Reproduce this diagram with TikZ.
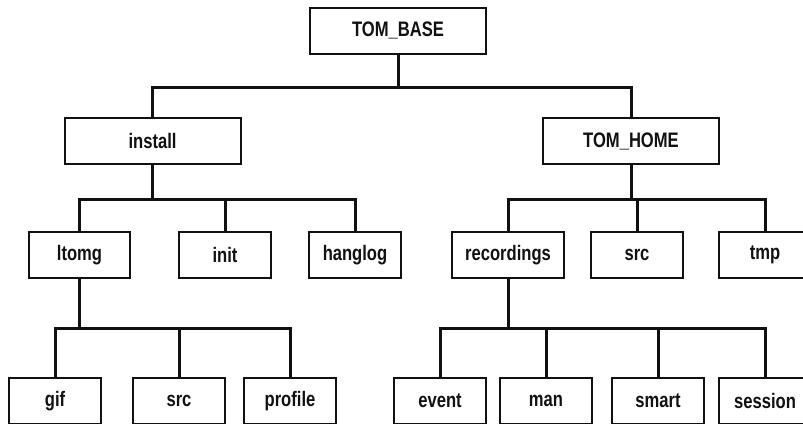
\documentclass[tikz,border=0pt]{standalone}
\usepackage{fontspec}
\setmainfont{Liberation Sans}[FakeStretch=0.79]
\usepackage{xcolor}
\usepackage{tikz}
\definecolor{tdInk}{HTML}{111111}
\usetikzlibrary{calc}
\tikzset{
  dirbox/.style={draw=tdInk, line width=2pt, minimum width=92pt, minimum height=46pt,
    inner sep=0pt, text=tdInk, font=\fontsize{21}{25}\selectfont\bfseries},
  link/.style={tdInk, line width=3pt}
}

\begin{document}
\begin{tikzpicture}[x=1pt, y=-1pt]
    \clip (0,0) rectangle (803,423);
    % top two levels
    \node[dirbox, minimum width=176pt] (base) at (398,30.5) {TOM\_BASE};
    \node[dirbox, minimum width=176pt] (install) at (152.5,141) {install};
    \node[dirbox, minimum width=176pt] (home) at (631,141) {TOM\_HOME};
    % below install
    \node[dirbox, minimum width=101pt] (ltomg) at (79.5,255) {ltomg};
    \node[dirbox] (init) at (225,255) {init};
    \node[dirbox] (hanglog) at (355,255) {hanglog};
    \node[dirbox] (gif) at (55,401) {gif};
    \node[dirbox] (lsrc) at (179,401) {src};
    \node[dirbox] (profile) at (290,401) {profile};
    % below TOM_HOME
    \node[dirbox, minimum width=112pt] (recordings) at (508,255) {recordings};
    \node[dirbox] (hsrc) at (637,255) {src};
    \node[dirbox] (tmp) at (765,255) {tmp};
    \node[dirbox] (event) at (440,401) {event};
    \node[dirbox] (man) at (546,401) {man};
    \node[dirbox] (smart) at (658,401) {smart};
    \node[dirbox] (session) at (765,401) {session};
    % connectors
    \draw[link] (base.south) -- ++(0,33) -| (install.north);
    \draw[link] (base.south) -- ++(0,33) -| (home.north);
    \foreach \c in {ltomg,init,hanglog}
      \draw[link] (install.south) -- ++(0,34) -| (\c.north);
    \foreach \c in {recordings,hsrc,tmp}
      \draw[link] (home.south) -- ++(0,34) -| (\c.north);
    \foreach \c in {gif,lsrc,profile}
      \draw[link] (ltomg.south) -- ++(0,49) -| (\c.north);
    \foreach \c in {event,man,smart,session}
      \draw[link] (recordings.south) -- ++(0,49) -| (\c.north);
  \end{tikzpicture}
\end{document}
